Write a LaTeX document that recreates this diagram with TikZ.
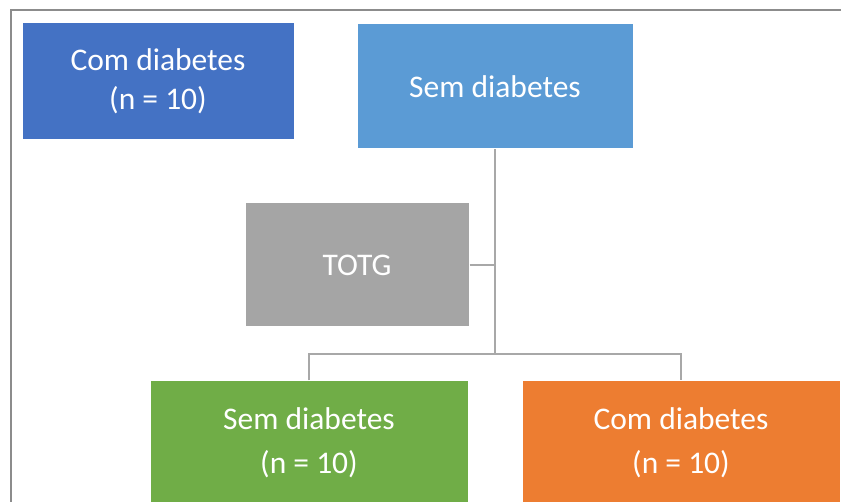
\documentclass[tikz,border=0pt]{standalone}
\usepackage{fontspec}
\setmainfont{Carlito}
\definecolor{darkblue}{HTML}{4472C4}
\definecolor{lightblue}{HTML}{5B9BD5}
\definecolor{boxgray}{HTML}{A5A5A5}
\definecolor{boxgreen}{HTML}{70AD47}
\definecolor{boxorange}{HTML}{ED7D31}
\definecolor{framegray}{HTML}{8C8C8C}
\definecolor{conngray}{HTML}{A8A8A8}
\begin{document}
\begin{tikzpicture}[x=1pt,y=-1pt,
  box/.style={rectangle, draw=white, line width=1pt, text=white, align=center,
    inner sep=0pt, font=\fontsize{31.5}{39}\selectfont},
  conn/.style={draw=conngray, line width=1.6pt},
  framel/.style={draw=framegray, line width=2pt}]
\useasboundingbox (0,0) rectangle (841,502);
\clip (0,0) rectangle (841,502);
\fill[white] (0,0) rectangle (841,502);
\draw[framel] (845,10) -- (11,10) -- (11,506);
\node[box, fill=darkblue, minimum width=272pt, minimum height=117pt] (cd) at (158,81.5) {Com diabetes\\(n = 10)};
\node[box, fill=lightblue, minimum width=276pt, minimum height=125pt] (sd) at (495,86.5) {Sem diabetes};
\node[box, fill=boxgray, minimum width=224pt, minimum height=124pt] (totg) at (357,265) {TOTG};
\node[box, fill=boxgreen, minimum width=318pt, minimum height=124pt, font=\fontsize{31.5}{44}\selectfont] (g) at (309,443) {Sem diabetes\\(n = 10)};
\node[box, fill=boxorange, minimum width=318pt, minimum height=124pt, font=\fontsize{31.5}{44}\selectfont] (o) at (681,443) {Com diabetes\\(n = 10)};
\coordinate (j) at (495,354);
\draw[conn] (sd.south) -- (j);
\draw[conn] (totg.east) -- (totg.east -| j);
\draw[conn] (g.north) |- (j) -| (o.north);
\end{tikzpicture}
\end{document}
